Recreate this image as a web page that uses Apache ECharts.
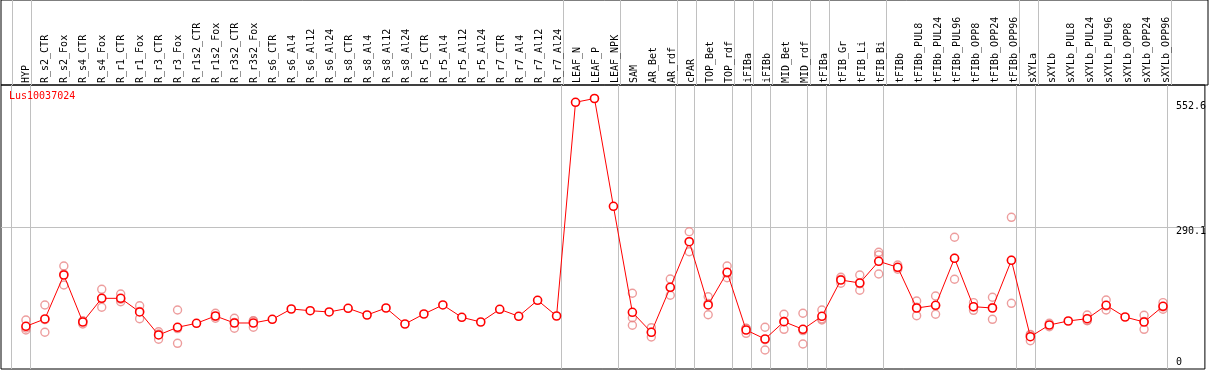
<!DOCTYPE html>
<html><head><meta charset="utf-8">
<script src="https://cdn.jsdelivr.net/npm/echarts@6/dist/echarts.min.js"></script>
<style>html,body{margin:0;padding:0;background:#fff}#c{width:1209px;height:370px}</style>
</head><body><div id="c"></div>
<script>
const title = 'Lus10037024';
const categories = ['HYP','R_s2_CTR','R_s2_Fox','R_s4_CTR','R_s4_Fox','R_r1_CTR','R_r1_Fox','R_r3_CTR','R_r3_Fox','R_r1s2_CTR','R_r1s2_Fox','R_r3s2_CTR','R_r3s2_Fox','R_s6_CTR','R_s6_Al4','R_s6_Al12','R_s6_Al24','R_s8_CTR','R_s8_Al4','R_s8_Al12','R_s8_Al24','R_r5_CTR','R_r5_Al4','R_r5_Al12','R_r5_Al24','R_r7_CTR','R_r7_Al4','R_r7_Al12','R_r7_Al24','LEAF_N','LEAF_P','LEAF_NPK','SAM','AR_Bet','AR_rdf','cPAR','TOP_Bet','TOP_rdf','iFIBa','iFIBb','MID_Bet','MID_rdf','tFIBa','tFIB_Gr','tFIB_Li','tFIB_Bi','tFIBb','tFIBb_PUL8','tFIBb_PUL24','tFIBb_PUL96','tFIBb_OPP8','tFIBb_OPP24','tFIBb_OPP96','sXYLa','sXYLb','sXYLb_PUL8','sXYLb_PUL24','sXYLb_PUL96','sXYLb_OPP8','sXYLb_OPP24','sXYLb_OPP96'];
const means = [87.2,102.2,192.0,96.0,144.4,144.4,116.5,69.5,85.2,93.4,108.3,94.0,94.0,101.5,122.6,119.1,116.5,124.0,110.3,124.6,91.9,112.4,130.8,105.6,96.0,122.0,107.7,140.4,108.3,544.9,552.6,332.4,115.8,75.0,166.9,260.1,130.8,197.6,79.7,61.3,96.7,81.1,107.7,181.8,175.7,220.0,207.8,124.6,130.1,226.2,127.3,124.6,222.1,66.0,89.9,98.1,102.8,130.1,106.2,96.0,128.1];
const replicates = [
 [100.1,83.8,79.7],[130.8,75.0,100.8],[210.4,171.6,194.0],[98.1,91.9,98.0],[162.8,126.1,144.3],
 [153.2,137.5,142.5],[129.3,102.8,117.4],[76.2,60.7,71.6],[120.5,52.5,82.6],[],
 [113.8,103.6,107.5],[103.6,83.2,95.2],[98.1,85.2,98.7],[],[],
 [],[],[],[],[],
 [],[],[],[],[],
 [],[],[],[],[],
 [],[],[154.7,104.8,89.3],[84.4,65.4,75.2],[183.9,150.6,166.2],
 [280.5,239.6,260.2],[147.7,110.9,133.8],[210.4,186.5,195.9],[83.2,72.9,83.0],[85.2,38.8,59.9],
 [111.8,81.1,97.2],[113.8,51.1,78.4],[120.5,100.1,102.5],[187.3,175.1,183.0],[192.0,160.8,174.3],
 [238.4,232.9,194.1],[212.5,203.7,207.2],[138.9,108.9,126.0],[149.1,111.8,129.4],[269.1,183.3,226.2],
 [135.5,119.9,126.5],[146.5,101.5,125.8],[309.9,134.2,222.2],[69.5,57.8,70.7],[86.4,93.4],
 [],[110.3,98.7,99.4],[141.0,120.5,128.8],[],[109.7,81.1,97.2],
 [135.5,122.0,126.8]
];
const groupEnds = [-1,0,28,31,34,35,37,38,39,41,42,45,52,53,60];
const yTickLabels = [0, 290.1, 552.6];
const yGridValues = [290.1];

const FONT = 'DejaVu Sans Mono';
const yMax = 580.2;
const xMin = -25/19, xMax = 1182/19;
const separators = groupEnds.map(e => e + 0.25);
const catIdx = categories.map((_, i) => i);
const meanData = means.map((v, i) => [i, v]);
const repData = [];
replicates.forEach((arr, i) => arr.forEach(v => repData.push([i, v])));

const chart = echarts.init(document.getElementById('c'), null, {renderer: 'canvas'});
chart.setOption({
  animation: false,
  backgroundColor: '#fff',
  title: {text: title, left: 9, top: 91, padding: 0,
    textStyle: {color: '#ff0000', fontFamily: FONT, fontSize: 10, fontWeight: 'normal'}},
  grid: [
    {left: 1, right: 1, top: 85, bottom: 1, show: true, borderColor: '#000', borderWidth: 1},
    {left: 1, right: 1, top: 0, height: 85, show: true, borderColor: '#000', borderWidth: 1}
  ],
  xAxis: [
    {type: 'value', gridIndex: 0, min: xMin, max: xMax,
      axisLine: {show: false}, axisLabel: {show: false},
      axisTick: {show: false, customValues: separators},
      splitLine: {show: true, lineStyle: {color: '#c0c0c0', width: 1}}},
    {type: 'value', gridIndex: 1, position: 'bottom', min: xMin, max: xMax,
      axisLine: {show: false},
      axisTick: {show: false, customValues: separators},
      splitLine: {show: true, lineStyle: {color: '#c0c0c0', width: 1}},
      axisLabel: {show: true, inside: true, rotate: 90, margin: 2, customValues: catIdx,
        formatter: v => categories[Math.round(v)], fontFamily: FONT, fontSize: 10, color: '#000'}}
  ],
  yAxis: [
    {type: 'value', gridIndex: 0, position: 'right', offset: -29, min: 0, max: yMax,
      axisLine: {show: false},
      axisTick: {show: false, customValues: yGridValues},
      splitLine: {show: true, lineStyle: {color: '#c0c0c0', width: 1}},
      axisLabel: {margin: 0, customValues: yTickLabels, color: '#000', fontFamily: FONT, fontSize: 10,
        formatter: v => v === 0 ? '{b|0}' : (v === yTickLabels[2] ? '{t|' + v + '}' : '{m|' + v + '}'),
        rich: {
          t: {padding: [16, 0, 0, 0], fontFamily: FONT, fontSize: 10, color: '#000'},
          m: {padding: [8, 0, 0, 0], fontFamily: FONT, fontSize: 10, color: '#000'},
          b: {padding: [0, 0, 14, 0], fontFamily: FONT, fontSize: 10, color: '#000'}
        }}},
    {type: 'value', gridIndex: 1, show: false, min: 0, max: 1}
  ],
  series: [
    {type: 'scatter', xAxisIndex: 0, yAxisIndex: 0, data: repData, symbol: 'circle', symbolSize: 8,
      itemStyle: {color: 'rgba(0,0,0,0)', borderColor: '#e88484', borderWidth: 1.4}, z: 2, silent: true},
    {type: 'line', xAxisIndex: 0, yAxisIndex: 0, data: meanData, symbol: 'circle', symbolSize: 8,
      lineStyle: {color: '#ff0000', width: 1},
      itemStyle: {color: '#ffffff', borderColor: '#ff0000', borderWidth: 1.6}, z: 3, silent: true}
  ]
});
</script></body></html>
